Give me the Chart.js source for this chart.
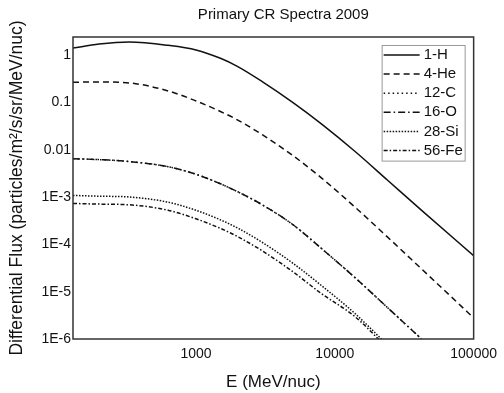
<!DOCTYPE html>
<html>
<head>
<meta charset="utf-8">
<script src="https://cdn.jsdelivr.net/npm/chart.js@4.4.0/dist/chart.umd.min.js"></script>
<style>
  html, body { margin: 0; padding: 0; background: #fff; }
</style>
</head>
<body>
<canvas id="chart1" width="504" height="393"></canvas>
<script>
'use strict';
// energies (MeV/nuc) and flux values
var ENERGY  = [130, 200, 330, 630, 1000, 1500, 2000, 3000, 5000, 8000, 14000, 24000, 42000, 100000];
var FLUX_H  = [1.40, 1.70, 1.88, 1.60, 1.28, 0.851, 0.569, 0.274, 0.0986, 0.0351, 9.16e-3, 2.26e-3, 5.27e-4, 5.77e-5];
var FLUX_HE = [0.266, 0.269, 0.257, 0.174, 0.107, 0.064, 0.0422, 0.0207, 7.46e-3, 2.54e-3, 6.08e-4, 1.42e-4, 3.05e-5, 2.8e-6];
var FLUX_C  = [6.46e-3, 6.17e-3, 5.62e-3, 4.37e-3, 3.02e-3, 1.90e-3, 1.29e-3, 6.85e-4, 2.59e-4, 8.2e-5, 1.97e-5, 4.59e-6, 1.01e-6, null];
var FLUX_O  = [6.46e-3, 6.17e-3, 5.62e-3, 4.37e-3, 3.02e-3, 1.90e-3, 1.29e-3, 6.85e-4, 2.59e-4, 8.2e-5, 1.97e-5, 4.59e-6, 1.01e-6, null];
var FLUX_SI = [1.08e-3, 1.04e-3, 1.0e-3, 7.76e-4, 5.24e-4, 3.29e-4, 2.2e-4, 1.1e-4, 3.97e-5, 1.35e-5, 3.43e-6, 7.38e-7, null, null];
var FLUX_FE = [7.3e-4, 7.08e-4, 6.84e-4, 5.25e-4, 3.46e-4, 2.17e-4, 1.45e-4, 7.3e-5, 2.62e-5, 9.12e-6, 2.95e-6, 6.35e-7, null, null];
var SERIES_LABELS = ['1-H', '4-He', '12-C', '16-O', '28-Si', '56-Fe'];
var X_TICKS = [1000, 10000, 100000];
var Y_TICKS = [1e-6, 1e-5, 1e-4, 1e-3, 0.01, 0.1, 1];
var Y_TICK_LABELS = ['1E-6', '1E-5', '1E-4', '1E-3', '0.01', '0.1', '1'];
var TITLE = 'Primary CR Spectra 2009';

var DASHES = [[], [6, 4], [1.5, 3], [7, 3, 1.5, 3], [1.5, 1.5], [4, 2, 1.5, 2]];
var FONT = '"Liberation Sans", Arial, Helvetica, sans-serif';

Chart.defaults.font.family = FONT;
Chart.defaults.color = '#111';

var toPoints = function (ys) {
    return ENERGY.map(function (e, i) { return { x: e, y: ys[i] }; });
};

var makeSet = function (i, ys) {
    return {
        label: SERIES_LABELS[i],
        data: toPoints(ys),
        borderColor: '#111',
        borderWidth: 1.5,
        borderDash: DASHES[i],
        pointRadius: 0,
        fill: false,
        cubicInterpolationMode: 'monotone',
        spanGaps: false
    };
};

// box around the plot area + title (a bit right of centre, like the original)
var frame = {
    id: 'frame',
    afterDatasetsDraw: function (chart) {
        var a = chart.chartArea, ctx = chart.ctx;
        ctx.save();
        ctx.strokeStyle = '#333';
        ctx.lineWidth = 1.5;
        ctx.strokeRect(a.left, a.top, a.right - a.left, a.bottom - a.top);
        ctx.font = '15px ' + FONT;
        ctx.fillStyle = '#111';
        ctx.textAlign = 'center';
        ctx.textBaseline = 'middle';
        ctx.fillText(TITLE, (a.left + a.right) / 2 + 10, 15);
        ctx.restore();
    }
};

// matlab-like legend inside the axes, top right
var legendBox = {
    id: 'legendBox',
    afterDraw: function (chart) {
        var ctx = chart.ctx, a = chart.chartArea;
        var sets = chart.data.datasets;
        var rowH = 19.1, w = 83;
        var h = rowH * sets.length + 1;
        var left = a.right - 9 - w, top = a.top + 8;
        ctx.save();
        ctx.fillStyle = '#fff';
        ctx.fillRect(left, top, w, h);
        ctx.strokeStyle = '#999';
        ctx.lineWidth = 1;
        ctx.strokeRect(left + 0.5, top + 0.5, w, h);
        ctx.font = '15px ' + FONT;
        ctx.textBaseline = 'middle';
        ctx.fillStyle = '#111';
        sets.forEach(function (ds, i) {
            var y = top + 10 + i * rowH;
            ctx.beginPath();
            ctx.setLineDash(ds.borderDash);
            ctx.strokeStyle = ds.borderColor;
            ctx.lineWidth = ds.borderWidth;
            ctx.moveTo(left + 2, y);
            ctx.lineTo(left + 38, y);
            ctx.stroke();
            ctx.setLineDash([]);
            ctx.fillText(ds.label, left + 42, y);
        });
        ctx.restore();
    }
};

var ctx = document.getElementById('chart1').getContext('2d');
new Chart(ctx, {
    type: 'line',
    data: {
        datasets: [
            makeSet(0, FLUX_H),
            makeSet(1, FLUX_HE),
            makeSet(2, FLUX_C),
            makeSet(3, FLUX_O),
            makeSet(4, FLUX_SI),
            makeSet(5, FLUX_FE)
        ]
    },
    options: {
        responsive: false,
        animation: false,
        layout: { padding: { left: 0, right: 24, top: 37, bottom: 0 } },
        plugins: {
            legend: { display: false },
            tooltip: { enabled: false },
            title: { display: false }
        },
        scales: {
            x: {
                type: 'logarithmic',
                min: 130,
                max: 100000,
                grid: { display: false, drawTicks: false },
                border: { display: false },
                afterBuildTicks: function (scale) {
                    scale.ticks = X_TICKS.map(function (v) { return { value: v }; });
                },
                afterFit: function (scale) { scale.height = 54; },
                ticks: {
                    autoSkip: false,
                    maxRotation: 0,
                    padding: 7,
                    font: { size: 14 },
                    callback: function (v) { return String(v); }
                },
                title: {
                    display: true,
                    text: 'E (MeV/nuc)',
                    font: { size: 17 },
                    padding: { top: 2, bottom: 0 }
                }
            },
            y: {
                type: 'logarithmic',
                min: 1e-6,
                max: 2.4,
                grid: { display: false, drawTicks: false },
                border: { display: false },
                afterBuildTicks: function (scale) {
                    scale.ticks = Y_TICKS.map(function (v) { return { value: v }; });
                },
                afterFit: function (scale) { scale.width = 73; },
                ticks: {
                    autoSkip: false,
                    padding: 2,
                    font: { size: 14 },
                    callback: function (v) {
                        var i = Y_TICKS.indexOf(v);
                        return i >= 0 ? Y_TICK_LABELS[i] : '';
                    }
                },
                title: {
                    display: true,
                    text: 'Differential Flux (particles/m\u00b2/s/sr/MeV/nuc)',
                    font: { size: 17.5 },
                    padding: { top: 7, bottom: 0 }
                }
            }
        }
    },
    plugins: [frame, legendBox]
});
</script>
</body>
</html>
